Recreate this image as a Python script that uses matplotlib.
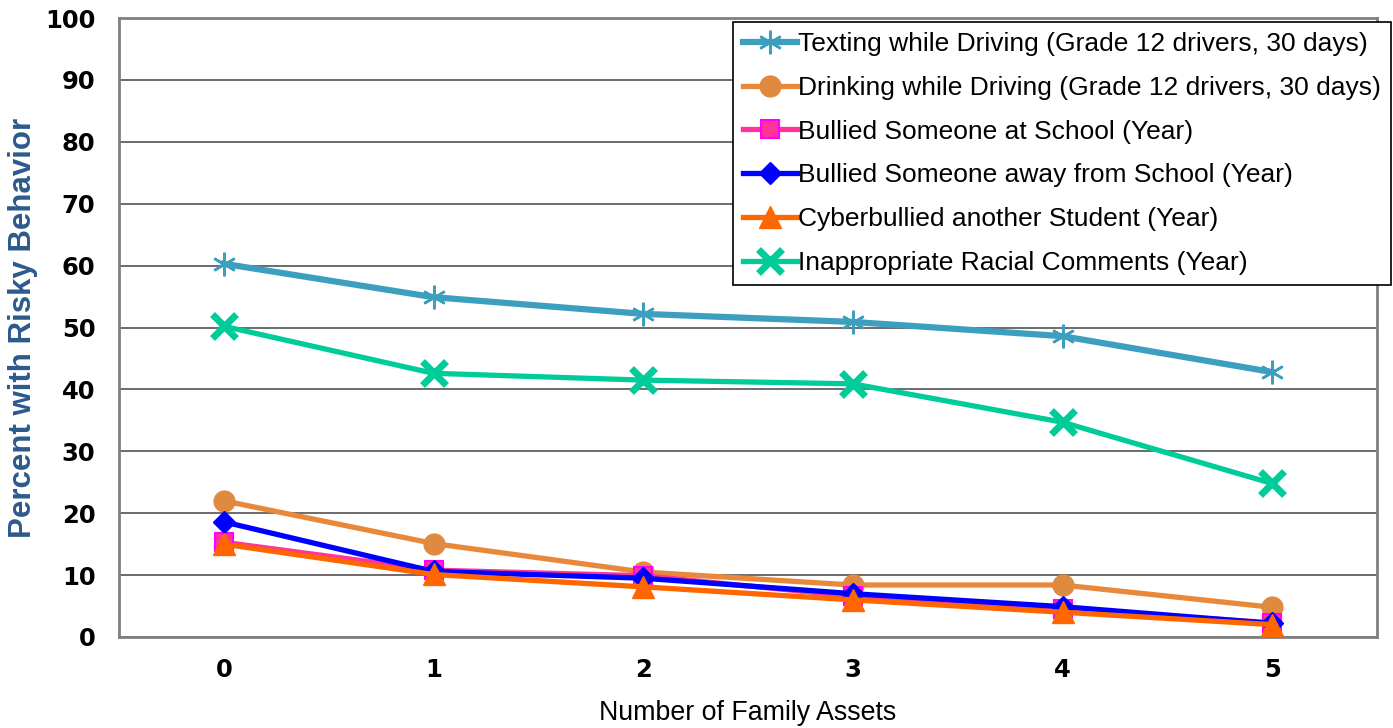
import matplotlib
matplotlib.use("Agg")
import matplotlib.pyplot as plt

assets = [0, 1, 2, 3, 4, 5]
texting = [60.3, 54.9, 52.2, 50.9, 48.6, 42.8]
drinking = [22.0, 15.1, 10.5, 8.4, 8.4, 4.8]
bullied_school = [15.3, 10.8, 9.9, 6.6, 4.5, 2.3]
bullied_away = [18.6, 10.6, 9.5, 7.0, 4.9, 2.2]
cyber = [15.0, 10.1, 8.1, 6.0, 4.0, 2.0]
racial = [50.2, 42.6, 41.5, 40.9, 34.7, 24.8]

labels = [
    "Texting while Driving (Grade 12 drivers, 30 days)",
    "Drinking while Driving (Grade 12 drivers, 30 days)",
    "Bullied Someone at School (Year)",
    "Bullied Someone away from School (Year)",
    "Cyberbullied another Student (Year)",
    "Inappropriate Racial Comments (Year)",
]
y_ticks = [0, 10, 20, 30, 40, 50, 60, 70, 80, 90, 100]

plt.rcParams['font.family'] = ['Liberation Sans', 'DejaVu Sans']

fig = plt.figure(figsize=(13.93, 7.28), dpi=100)
ax = fig.add_axes([119/1393, 91/728, (1377-119)/1393, (637-18)/728])

ax.plot(assets, texting, color='#3D9FBE', lw=4.5, marker=(6, 2, 0), ms=17,
        mew=1.8, mec='#3D9FBE', label=labels[0], zorder=3)
ax.plot(assets, drinking, color='#E8883A', lw=3.8, marker='o', ms=15,
        mfc='#E08A40', mec='#E08A40', label=labels[1], zorder=3)
ax.plot(assets, bullied_school, color='#FF3399', lw=3.8, marker='s', ms=13,
        mfc='#FF3399', mec='#FF00FF', mew=1.5, label=labels[2], zorder=3)
ax.plot(assets, bullied_away, color='#0000FF', lw=3.8, marker='D', ms=11,
        mfc='#0000FF', mec='#0000FF', label=labels[3], zorder=3)
ax.plot(assets, cyber, color='#FF6600', lw=3.8, marker='^', ms=16,
        mfc='#FF6600', mec='#FF6600', label=labels[4], zorder=3)
ax.plot(assets, racial, color='#00CC99', lw=3.8, marker='x', ms=17,
        mew=5, mec='#00CC99', label=labels[5], zorder=3)

ax.set_xlim(-0.5, 5.5)
ax.set_ylim(0, 100)
ax.set_yticks(y_ticks)
ax.set_xticks(assets)
ax.grid(axis='y', color='#606060', lw=1.3)
ax.set_axisbelow(True)
for s in ax.spines.values():
    s.set_color('#808080')
    s.set_linewidth(2)
ax.tick_params(axis='both', length=0, labelsize=17.5)
ax.tick_params(axis='y', pad=17)
ax.tick_params(axis='x', pad=15)
for lab in ax.get_xticklabels() + ax.get_yticklabels():
    lab.set_fontweight('bold')
    lab.set_family(['DejaVu Sans'])

ax.set_xlabel("Number of Family Assets", fontsize=19.3, labelpad=13)
ax.set_ylabel("Percent with Risky Behavior", fontsize=22.5, fontweight='bold',
              color='#2B5A8C', labelpad=5)

leg = ax.legend(loc='upper left', bbox_to_anchor=(733/1393, 1 - 22/728),
                bbox_transform=fig.transFigure, fontsize=19.0, frameon=True,
                fancybox=False, framealpha=1, edgecolor='black',
                handlelength=2.05, handletextpad=0.05, labelspacing=0.75,
                borderpad=0.38, borderaxespad=0)
leg.get_frame().set_linewidth(1.2)

fig.savefig("out.png", dpi=100)
